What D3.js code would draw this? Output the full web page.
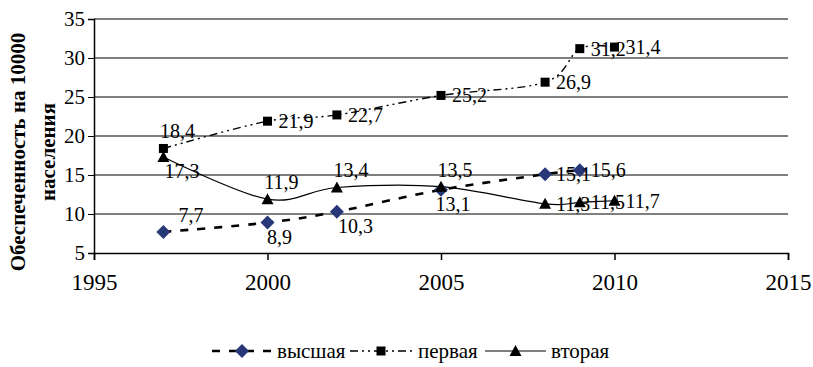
<!DOCTYPE html>
<html><head><meta charset="utf-8">
<script src="https://cdn.jsdelivr.net/npm/d3@7"></script>
<style>body{margin:0;background:#fff}svg{display:block}</style>
</head><body><svg id="c" width="813" height="367"></svg>
<script>
const years1 = [1997, 2000, 2002, 2005, 2008, 2009];
const vysshaya = [7.7, 8.9, 10.3, 13.1, 15.1, 15.6];
const vysshayaLabelPos = ["aboveRight", "below", "belowRight", "below", "right", "right"];
const years2 = [1997, 2000, 2002, 2005, 2008, 2009, 2010];
const pervaya = [18.4, 21.9, 22.7, 25.2, 26.9, 31.2, 31.4];
const pervayaLabelPos = ["above", "right", "right", "right", "right", "right", "right"];
const vtoraya = [17.3, 11.9, 13.4, 13.5, 11.3, 11.5, 11.7];
const vtorayaLabelPos = ["belowRight", "above", "above", "above", "right", "right", "right"];
const seriesNames = ["высшая", "первая", "вторая"];
const xTicks = [1995, 2000, 2005, 2010, 2015];
const yTicks = [5, 10, 15, 20, 25, 30, 35];
const yTitle = ["Обеспеченность на 10000", "населения"];

const FONT = "'Liberation Serif'";
const svg = d3.select("#c").attr("font-family", FONT);
const x = d3.scaleLinear().domain([1995, 2015]).range([94, 788]);
const y = d3.scaleLinear().domain([5, 35]).range([253, 19]);
const fmt = v => String(v).replace(".", ",");

// gridlines
svg.append("g").selectAll("line").data(yTicks.filter(t => t > 5)).join("line")
  .attr("x1", x(1995)).attr("x2", x(2015)).attr("y1", d => y(d)).attr("y2", d => y(d))
  .attr("stroke", "#000").attr("stroke-width", 1.2);

// axes
const yAxis = svg.append("g").attr("transform", `translate(${x(1995)},0)`)
  .call(d3.axisLeft(y).tickValues(yTicks).tickSize(6).tickPadding(3).tickFormat(d => d));
yAxis.attr("font-family", FONT);
yAxis.select(".domain").attr("stroke", "#000").attr("stroke-width", 1.5);
yAxis.selectAll("text").attr("font-family", FONT).attr("font-size", 21).attr("fill", "#000");
const xAxis = svg.append("g").attr("transform", `translate(0,${y(5)})`)
  .call(d3.axisBottom(x).tickValues(xTicks).tickSize(7).tickPadding(14).tickFormat(d => d));
xAxis.attr("font-family", FONT);
xAxis.select(".domain").attr("stroke", "#000").attr("stroke-width", 1.5);
xAxis.selectAll("line").attr("stroke-width", 1.5);
xAxis.selectAll("text").attr("font-family", FONT).attr("font-size", 23).attr("fill", "#000");

// y title
const yt = svg.append("text").attr("transform", "translate(0,152) rotate(-90)")
  .attr("font-family", FONT)
  .attr("text-anchor", "middle").attr("font-weight", "bold").attr("font-size", 21).attr("fill", "#000");
yt.append("tspan").attr("x", 0).attr("y", 25).text(yTitle[0]);
yt.append("tspan").attr("x", 0).attr("y", 55).text(yTitle[1]);

const curve = d3.curveCardinal.tension(0);
const line = (xs, vs) => d3.line().x((d, i) => x(xs[i])).y(d => y(d)).curve(curve)(vs);

const styles = [
  {xs: years1, vs: vysshaya, pos: vysshayaLabelPos, width: 2.6, dash: "8,9", marker: "diamond"},
  {xs: years2, vs: pervaya, pos: pervayaLabelPos, width: 1.4, dash: "8,4,2,4,2,4", marker: "square"},
  {xs: years2, vs: vtoraya, pos: vtorayaLabelPos, width: 1.2, dash: null, marker: "triangle"}
];

function drawMarker(g, type, cx, cy) {
  if (type === "diamond") {
    g.append("path").attr("d", `M${cx},${cy - 7}L${cx + 7},${cy}L${cx},${cy + 7}L${cx - 7},${cy}Z`)
      .attr("fill", "#283778");
  } else if (type === "square") {
    g.append("rect").attr("x", cx - 4.5).attr("y", cy - 4.5).attr("width", 9).attr("height", 9).attr("fill", "#000");
  } else {
    g.append("path").attr("d", `M${cx},${cy - 6}L${cx + 6},${cy + 5}L${cx - 6},${cy + 5}Z`).attr("fill", "#000");
  }
}

styles.forEach(s => {
  svg.append("path").attr("d", line(s.xs, s.vs)).attr("fill", "none")
    .attr("stroke", "#000").attr("stroke-width", s.width)
    .attr("stroke-dasharray", s.dash);
});
styles.forEach(s => {
  const g = svg.append("g");
  s.vs.forEach((v, i) => drawMarker(g, s.marker, x(s.xs[i]), y(v)));
});
styles.forEach(s => {
  const g = svg.append("g");
  s.vs.forEach((v, i) => {
    const cx = x(s.xs[i]), cy = y(v), p = s.pos[i];
    let tx = cx, ty = cy, anchor = "start";
    if (p === "right") { tx = cx + 11; ty = cy + 7; }
    else if (p === "above") { tx = cx + 14; ty = cy - 10; anchor = "middle"; }
    else if (p === "below") { tx = cx + 12; ty = cy + 21; anchor = "middle"; }
    else if (p === "aboveRight") { tx = cx + 15; ty = cy - 10; }
    else if (p === "belowRight") { tx = cx + 1; ty = cy + 21; }
    g.append("text").attr("x", tx).attr("y", ty).attr("text-anchor", anchor)
      .attr("font-family", FONT).attr("font-size", 20).attr("fill", "#000").text(fmt(v));
  });
});

// legend
const lg = svg.append("g");
const legendItems = [
  {x0: 212, x1: 272, tx: 277},
  {x0: 350, x1: 412, tx: 418},
  {x0: 485, x1: 546, tx: 551}
];
legendItems.forEach((it, i) => {
  const s = styles[i], ly = 351;
  lg.append("line").attr("x1", it.x0).attr("x2", it.x1).attr("y1", ly).attr("y2", ly)
    .attr("stroke", "#000").attr("stroke-width", s.width).attr("stroke-dasharray", s.dash);
  drawMarker(lg, s.marker, (it.x0 + it.x1) / 2, ly);
  lg.append("text").attr("x", it.tx).attr("y", 358).attr("font-family", FONT)
    .attr("font-size", 21).attr("fill", "#000").text(seriesNames[i]);
});
</script></body></html>
